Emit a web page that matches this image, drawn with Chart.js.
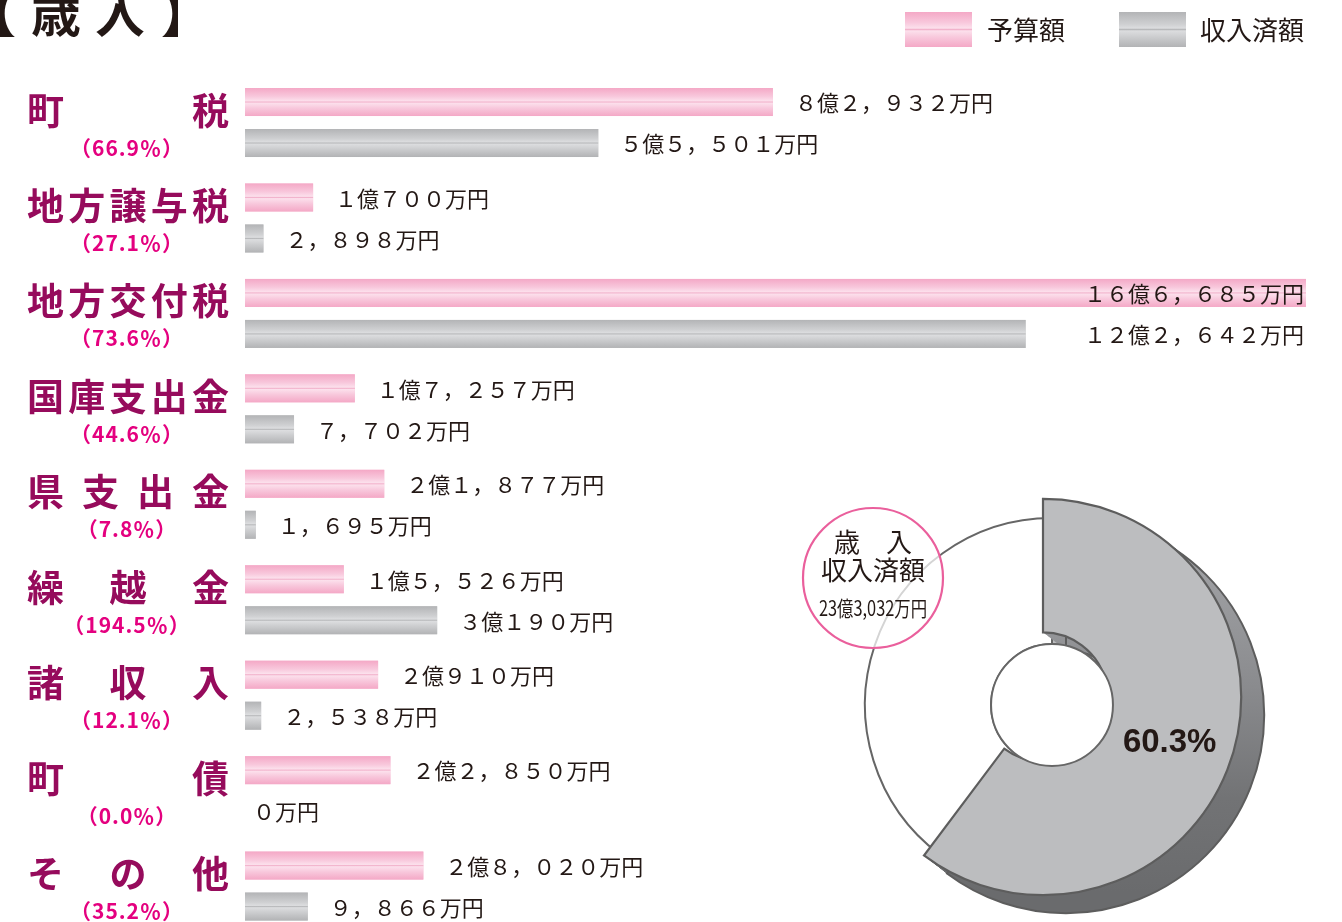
<!DOCTYPE html>
<html lang="ja">
<head>
<meta charset="utf-8">
<title>歳入</title>
<script src="https://cdn.jsdelivr.net/npm/chart.js@4.4.1/dist/chart.umd.min.js"></script>
<style>
  html, body { margin: 0; padding: 0; background: #fff; overflow: hidden; }
  #wrap { position: relative; width: 1342px; height: 922px; overflow: hidden; }
  #barChart { position: absolute; left: 0; top: 0; }
  #pieChart { position: absolute; left: 780px; top: 470px; }
</style>
</head>
<body>
<div id="wrap">
  <canvas id="barChart" width="1342" height="950"></canvas>
  <canvas id="pieChart" width="540" height="452"></canvas>
</div>
<script>
// 金額はすべて万円
const categories = ['町税', '地方譲与税', '地方交付税', '国庫支出金', '県支出金', '繰越金', '諸収入', '町債', 'その他'];
const budget = [82932, 10700, 166685, 17257, 21877, 15526, 20910, 22850, 28020];
const received = [55501, 2898, 122642, 7702, 1695, 30190, 2538, 0, 9866];
const rates = ['66.9', '27.1', '73.6', '44.6', '7.8', '194.5', '12.1', '0.0', '35.2'];
const seriesLabels = ['予算額', '収入済額'];

const JP = '"Noto Sans CJK JP", "Noto Sans", sans-serif';
const TEXT = '#231815';

const okuMan = v => {
    const oku = Math.floor(v / 10000), man = v % 10000;
    let s = oku ? oku + '億' : '';
    if (man || !oku) s += man.toLocaleString('en-US');
    return s + '万円';
};
const fullWidth = s => s.replace(/[0-9,]/g, ch => ch === ',' ? '，' : String.fromCharCode(ch.charCodeAt(0) + 0xFEE0));

const barStops = [
    [[0, '#f4a8c6'], [0.3, '#f8c8dc'], [0.46, '#fce0ec'], [0.5, '#f2b3cc'], [0.54, '#fce0ec'], [0.72, '#f8c8dc'], [1, '#f4a8c6']],
    [[0, '#b3b4b6'], [0.35, '#cfd0d2'], [0.46, '#dcdddf'], [0.5, '#b8b9bb'], [0.54, '#dcdddf'], [0.7, '#cdced0'], [1, '#b2b3b5']]
];
const paintBar = (ctx, x, y, w, h, di) => {
    const g = ctx.createLinearGradient(0, y, 0, y + h);
    barStops[di].forEach(([o, c]) => g.addColorStop(o, c));
    ctx.fillStyle = g;
    ctx.fillRect(x, y, w, h);
};

const barDecor = {
    id: 'barDecor',
    afterDatasetsDraw(chart) {
        const {ctx, chartArea} = chart;
        const yScale = chart.scales.y;
        ctx.save();

        // gradient bars on top of the library's bar rectangles
        chart.data.datasets.forEach((ds, di) => {
            chart.getDatasetMeta(di).data.forEach(bar => {
                const {x, y, base, height} = bar.getProps(['x', 'y', 'base', 'height'], true);
                if (x - base < 0.5) return;
                paintBar(ctx, base, y - height / 2, x - base, height, di);
            });
        });

        // value labels
        ctx.font = '22px ' + JP;
        ctx.fillStyle = TEXT;
        ctx.textBaseline = 'middle';
        categories.forEach((cat, i) => {
            const items = chart.data.datasets.map((ds, di) => {
                const bar = chart.getDatasetMeta(di).data[i];
                const {x, y} = bar.getProps(['x', 'y'], true);
                const text = fullWidth(okuMan(ds.data[i]));
                const gap = ds.data[i] === 0 ? 8 : 22;
                return {x: x + gap, y, text, w: ctx.measureText(text).width};
            });
            const overflow = items.some(it => it.x + it.w > chartArea.right);
            items.forEach(it => {
                if (overflow) {
                    ctx.textAlign = 'right';
                    ctx.fillText(it.text, chartArea.right - 2, it.y + 1);
                } else {
                    ctx.textAlign = 'left';
                    ctx.fillText(it.text, it.x, it.y + 1);
                }
            });
        });

        // category names + rates
        categories.forEach((cat, i) => {
            const c = yScale.getPixelForValue(i);
            ctx.font = 'bold 37px ' + JP;
            ctx.fillStyle = '#960b5c';
            ctx.textAlign = 'left';
            const chars = [...cat];
            const left = 27, right = 229;
            const cw = ctx.measureText(chars[chars.length - 1]).width;
            const step = (right - left - cw) / (chars.length - 1);
            chars.forEach((ch, k) => ctx.fillText(ch, left + k * step, c - 12));

            ctx.font = 'bold 21px ' + JP;
            ctx.fillStyle = '#e4007f';
            ctx.textAlign = 'center';
            ctx.letterSpacing = '1px';
            ctx.fillText('（' + rates[i] + '％）', 127, c + 25);
            ctx.letterSpacing = '0px';
        });

        // legend
        const legendPos = [[905, 987], [1119, 1200]];
        chart.data.datasets.forEach((ds, di) => {
            const [bx, tx] = legendPos[di];
            paintBar(ctx, bx, 12, 67, 35, di);
            ctx.font = '26px ' + JP;
            ctx.fillStyle = TEXT;
            ctx.textAlign = 'left';
            ctx.textBaseline = 'middle';
            ctx.fillText(ds.label, tx, 30);
        });

        // title
        ctx.font = 'bold 50px ' + JP;
        ctx.fillStyle = TEXT;
        ctx.textBaseline = 'alphabetic';
        ctx.textAlign = 'left';
        [['【', -34], ['歳', 31], ['入', 95], ['】', 161]].forEach(([ch, x]) => ctx.fillText(ch, x, 32));
        ctx.restore();
    }
};

new Chart(document.getElementById('barChart'), {
    type: 'bar',
    data: {
        labels: categories,
        datasets: [
            {label: seriesLabels[0], data: budget, backgroundColor: '#f7c3d8', categoryPercentage: 0.859, barPercentage: 0.683},
            {label: seriesLabels[1], data: received, backgroundColor: '#cbcccd', categoryPercentage: 0.859, barPercentage: 0.683}
        ]
    },
    options: {
        indexAxis: 'y',
        responsive: false,
        animation: false,
        events: [],
        layout: {padding: {left: 245, right: 36, top: 74.8, bottom: 16.2}},
        scales: {
            x: {display: false, min: 0, max: 166685},
            y: {display: false}
        },
        plugins: {legend: {display: false}, tooltip: {enabled: false}}
    },
    plugins: [barDecor]
});

// 収入済額の割合 (ドーナツ)
const totalBudget = budget.reduce((a, b) => a + b, 0);
const totalReceived = received.reduce((a, b) => a + b, 0);

const donutDecor = {
    id: 'donutDecor',
    afterDatasetsDraw(chart) {
        const {ctx} = chart;
        const meta = chart.getDatasetMeta(0);
        const el = meta.data[0];
        const {x, y, startAngle, endAngle, innerRadius, outerRadius} =
            el.getProps(['x', 'y', 'startAngle', 'endAngle', 'innerRadius', 'outerRadius'], true);
        const s = 1.06;
        const face = {x: x - 9, y: y - 8};
        const base = {x: x + 14, y: y + 10};
        const sector = (cx, cy) => {
            ctx.beginPath();
            ctx.arc(cx, cy, outerRadius * s, startAngle, endAngle);
            ctx.arc(cx, cy, innerRadius * s, endAngle, startAngle, true);
            ctx.closePath();
        };
        ctx.save();
        // side
        const side = ctx.createLinearGradient(0, y - outerRadius, 0, y + outerRadius);
        side.addColorStop(0, '#a8a9ac');
        side.addColorStop(0.45, '#8a8b8e');
        side.addColorStop(0.75, '#727375');
        side.addColorStop(1, '#6a6b6d');
        ctx.fillStyle = side;
        const steps = 40;
        for (let i = 0; i <= steps; i++) {
            const t = i / steps;
            sector(base.x + (face.x - base.x) * t, base.y + (face.y - base.y) * t);
            ctx.fill();
        }
        ctx.strokeStyle = '#5d5d5d';
        ctx.lineWidth = 2;
        sector(base.x, base.y);
        ctx.stroke();
        // top face
        sector(face.x, face.y);
        ctx.fillStyle = '#bcbdbf';
        ctx.fill();
        ctx.lineWidth = 2.2;
        ctx.stroke();
        // hole
        ctx.beginPath();
        ctx.arc(x, y, innerRadius, 0, Math.PI * 2);
        ctx.fillStyle = '#fff';
        ctx.fill();
        ctx.strokeStyle = '#666';
        ctx.lineWidth = 2;
        ctx.stroke();
        // percentage
        const mid = (startAngle + endAngle) / 2;
        const rm = (outerRadius + innerRadius) / 2 * s;
        const pct = (totalReceived / totalBudget * 100).toFixed(1) + '%';
        ctx.font = 'bold 33px "Liberation Sans", Arial, sans-serif';
        ctx.fillStyle = TEXT;
        ctx.textAlign = 'center';
        ctx.textBaseline = 'middle';
        ctx.fillText(pct, face.x + Math.cos(mid) * rm + 2, face.y + Math.sin(mid) * rm + 4);
        ctx.restore();
    },
    afterDraw(chart) {
        const {ctx} = chart;
        const cx = 93, cy = 108;
        ctx.save();
        ctx.beginPath();
        ctx.arc(cx, cy, 70, 0, Math.PI * 2);
        ctx.fillStyle = 'rgba(255,255,255,0.72)';
        ctx.fill();
        ctx.strokeStyle = '#ea5f9c';
        ctx.lineWidth = 2.2;
        ctx.stroke();
        ctx.fillStyle = TEXT;
        ctx.textAlign = 'center';
        ctx.textBaseline = 'middle';
        ctx.font = '26px ' + JP;
        ctx.fillText('歳　入', cx, cy - 36);
        ctx.fillText(seriesLabels[1], cx, cy - 8);
        ctx.save();
        ctx.translate(cx, cy + 30);
        ctx.scale(0.78, 1);
        ctx.font = '21px ' + JP;
        ctx.fillText(okuMan(totalReceived), 0, 0);
        ctx.restore();
        ctx.restore();
    }
};

new Chart(document.getElementById('pieChart'), {
    type: 'doughnut',
    data: {
        labels: [seriesLabels[1], '未収入'],
        datasets: [{
            data: [totalReceived, totalBudget - totalReceived],
            backgroundColor: ['#bcbdbf', '#ffffff'],
            borderColor: '#666',
            borderWidth: 2
        }]
    },
    options: {
        responsive: false,
        animation: false,
        events: [],
        radius: 187,
        cutout: '32.6%',
        layout: {padding: {left: 85, top: 48, right: 81, bottom: 30}},
        plugins: {legend: {display: false}, tooltip: {enabled: false}}
    },
    plugins: [donutDecor]
});
</script>
</body>
</html>
